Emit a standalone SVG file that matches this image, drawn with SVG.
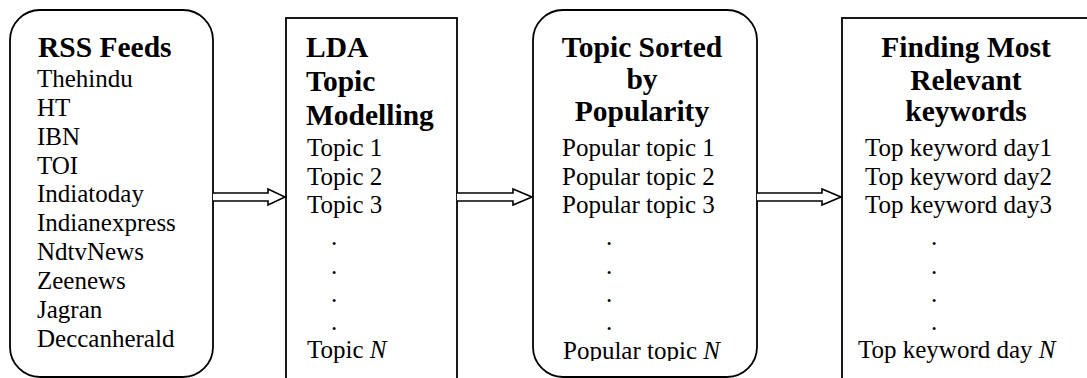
<svg xmlns="http://www.w3.org/2000/svg" width="1087" height="378" viewBox="0 0 1087 378">
  <style>
    .box { fill: #fff; stroke: #000; stroke-width: 1.8; }
    .arrow { fill: #fff; stroke: #000; stroke-width: 1.6; stroke-linejoin: miter; }
    text { font-family: "Liberation Serif", "Times New Roman", serif; fill: #000; }
    .hd { font-size: 29.5px; font-weight: bold; }
    .it { font-size: 25px; }
    .mid { text-anchor: middle; }
    .n { font-style: italic; }
  </style>
  <defs>
    <clipPath id="clip-sorted">
      <rect x="533" y="10" width="224" height="351"/>
    </clipPath>
  </defs>

  <rect width="1087" height="378" fill="#fff"/>

  <!-- RSS feed sources -->
  <g id="rss-feeds">
    <rect class="box" x="10" y="10" width="203" height="367" rx="30" ry="30"/>
    <text class="hd" x="38" y="57">RSS Feeds</text>
    <text class="it" x="37" y="87">Thehindu</text>
    <text class="it" x="37" y="116">HT</text>
    <text class="it" x="37" y="145">IBN</text>
    <text class="it" x="37" y="174">TOI</text>
    <text class="it" x="37" y="202">Indiatoday</text>
    <text class="it" x="37" y="231">Indianexpress</text>
    <text class="it" x="37" y="260">NdtvNews</text>
    <text class="it" x="37" y="289">Zeenews</text>
    <text class="it" x="37" y="318">Jagran</text>
    <text class="it" x="37" y="347">Deccanherald</text>
  </g>

  <!-- LDA topic modelling -->
  <g id="lda-topics">
    <rect class="box" x="286" y="18" width="171" height="380"/>
    <text class="hd" x="306" y="57">LDA</text>
    <text class="hd" x="306" y="91">Topic</text>
    <text class="hd" x="306" y="125">Modelling</text>
    <text class="it" x="307" y="156">Topic 1</text>
    <text class="it" x="307" y="185">Topic 2</text>
    <text class="it" x="307" y="213">Topic 3</text>
    <text class="it" x="331" y="245">.</text>
    <text class="it" x="331" y="274">.</text>
    <text class="it" x="331" y="302">.</text>
    <text class="it" x="331" y="330">.</text>
    <text class="it" x="307" y="358">Topic <tspan class="n">N</tspan></text>
  </g>

  <!-- Topics ranked by popularity -->
  <g id="sorted-topics">
    <rect class="box" x="533" y="10" width="224" height="367" rx="30" ry="30"/>
    <text class="hd mid" x="642" y="57">Topic Sorted</text>
    <text class="hd mid" x="642" y="89">by</text>
    <text class="hd mid" x="642" y="121">Popularity</text>
    <g clip-path="url(#clip-sorted)">
      <text class="it" x="562" y="156">Popular topic 1</text>
      <text class="it" x="562" y="185">Popular topic 2</text>
      <text class="it" x="562" y="213">Popular topic 3</text>
      <text class="it" x="606" y="245">.</text>
      <text class="it" x="606" y="274">.</text>
      <text class="it" x="606" y="302">.</text>
      <text class="it" x="606" y="330">.</text>
      <text class="it" x="563" y="359">Popular topic <tspan class="n">N</tspan></text>
    </g>
  </g>

  <!-- Keyword extraction -->
  <g id="keywords">
    <rect class="box" x="842" y="18" width="260" height="380"/>
    <text class="hd mid" x="966" y="57">Finding Most</text>
    <text class="hd mid" x="966" y="90">Relevant</text>
    <text class="hd mid" x="966" y="121">keywords</text>
    <text class="it" x="865" y="156">Top keyword day1</text>
    <text class="it" x="865" y="185">Top keyword day2</text>
    <text class="it" x="865" y="213">Top keyword day3</text>
    <text class="it" x="931" y="245">.</text>
    <text class="it" x="931" y="274">.</text>
    <text class="it" x="931" y="302">.</text>
    <text class="it" x="931" y="330">.</text>
    <text class="it" x="858" y="358">Top keyword day <tspan class="n">N</tspan></text>
  </g>

  <!-- Hollow block arrows between stages -->
  <g id="connectors">
    <path class="arrow" d="M213,193 H268 V189 L285,197 L268,205 V201 H213"/>
    <path class="arrow" d="M457,193 H513 V189 L532,197 L513,205 V201 H457"/>
    <path class="arrow" d="M757,193 H822 V189 L841,197 L822,205 V201 H757"/>
  </g>
</svg>
